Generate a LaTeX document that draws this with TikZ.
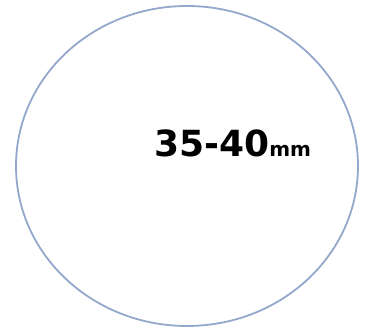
\documentclass[tikz,border=0pt]{standalone}
\usepackage{fontspec}
\setmainfont{DejaVu Sans}
\begin{document}
\begin{tikzpicture}[x=1pt,y=1pt,
  rim/.style={draw=rimblue,line width=1.8pt},
  label/.style={font=\bfseries\fontsize{36}{40}\selectfont, text=black, inner sep=0pt}]
\definecolor{rimblue}{HTML}{94A8CC}
\useasboundingbox (0,0) rectangle (368,334);
\fill[white] (0,0) rectangle (368,334);
\draw[rim] (187,168) ellipse [x radius=171, y radius=160];
\node[label, anchor=base west] (size) at (154,177) {35-40{\fontsize{20}{22}\selectfont mm}};
\end{tikzpicture}
\end{document}
